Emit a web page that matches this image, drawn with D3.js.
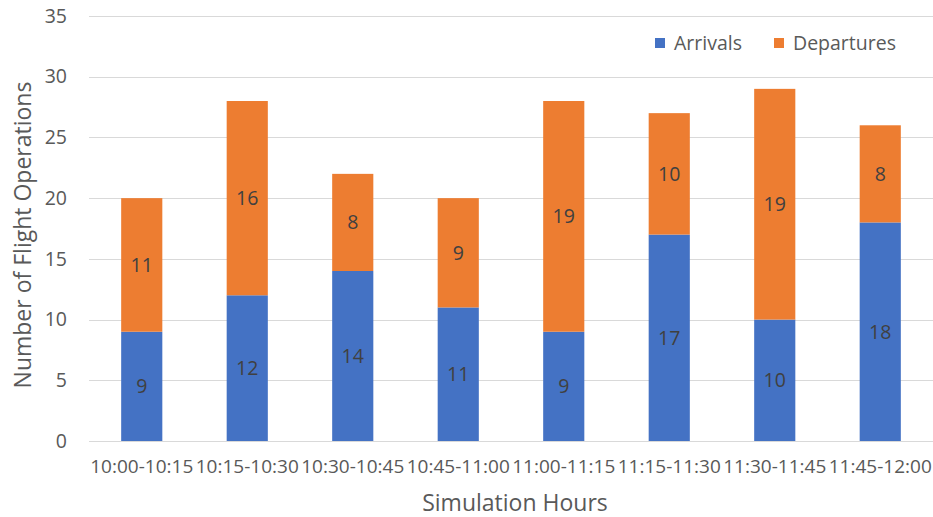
<!DOCTYPE html>
<html>
<head>
<meta charset="utf-8">
<script src="https://cdn.jsdelivr.net/npm/d3@7"></script>
<style>
  html, body { margin: 0; padding: 0; background: #fff; }
  svg { display: block; font-family: "Open Sans", sans-serif; }
</style>
</head>
<body>
<svg id="chart" width="933" height="517"></svg>
<script>
// Flight operations per 15-minute simulation slot
const categories = ["10:00-10:15", "10:15-10:30", "10:30-10:45", "10:45-11:00",
                    "11:00-11:15", "11:15-11:30", "11:30-11:45", "11:45-12:00"];
const arrivals   = [9, 12, 14, 11, 9, 17, 10, 18];
const departures = [11, 16, 8, 9, 19, 10, 19, 8];
const seriesNames = ["Arrivals", "Departures"];
const yTicks = [0, 5, 10, 15, 20, 25, 30, 35];

const colors = { Arrivals: "#4472C4", Departures: "#ED7D31" };
const textColor = "#595959";
const labelColor = "#404040";

const svg = d3.select("#chart");
const margin = { left: 89, right: 0, top: 16, bottom: 76 };
const width = 933, height = 517;

const x = d3.scaleBand()
  .domain(categories)
  .range([margin.left, width - margin.right])
  .paddingInner(0.61)
  .paddingOuter(0.305);

const y = d3.scaleLinear()
  .domain([0, 35])
  .range([height - margin.bottom, margin.top]);

// Horizontal gridlines
svg.append("g")
  .selectAll("line")
  .data(yTicks)
  .join("line")
  .attr("x1", margin.left)
  .attr("x2", width - margin.right)
  .attr("y1", d => Math.round(y(d)) + 0.5)
  .attr("y2", d => Math.round(y(d)) + 0.5)
  .attr("stroke", "#d9d9d9")
  .attr("stroke-width", 1);

// Y axis labels
const yAxis = svg.append("g")
  .attr("transform", `translate(${margin.left - 22},0)`)
  .call(d3.axisLeft(y).tickValues(yTicks).tickSize(0).tickPadding(0));
yAxis.select(".domain").remove();
yAxis.selectAll("text")
  .attr("fill", textColor)
  .style("font-size", "19.5px")
  .style("font-family", "'Open Sans', sans-serif");

// X axis labels
const xAxis = svg.append("g")
  .attr("transform", `translate(0,${height - margin.bottom})`)
  .call(d3.axisBottom(x).tickSize(0).tickPadding(19));
xAxis.select(".domain").remove();
xAxis.selectAll("text")
  .attr("fill", textColor)
  .style("font-size", "19px")
  .style("font-family", "'Open Sans', sans-serif");

// Stacked bars
const rows = categories.map((c, i) => ({ cat: c, Arrivals: arrivals[i], Departures: departures[i] }));
const stacked = d3.stack().keys(seriesNames)(rows);

const layers = svg.append("g")
  .selectAll("g")
  .data(stacked)
  .join("g")
  .attr("fill", d => colors[d.key]);

layers.selectAll("rect")
  .data(d => d)
  .join("rect")
  .attr("x", d => x(d.data.cat))
  .attr("width", x.bandwidth())
  .attr("y", d => y(d[1]))
  .attr("height", d => y(d[0]) - y(d[1]));

// Value labels centred in each segment
layers.selectAll("text")
  .data(d => d.map(p => ({ p, key: d.key })))
  .join("text")
  .attr("x", d => x(d.p.data.cat) + x.bandwidth() / 2)
  .attr("y", d => y((d.p[0] + d.p[1]) / 2))
  .attr("dy", "0.35em")
  .attr("text-anchor", "middle")
  .attr("fill", labelColor)
  .style("font-size", "19.5px")
  .text(d => d.p.data[d.key]);

// Axis titles
svg.append("text")
  .attr("x", 515)
  .attr("y", 511)
  .attr("text-anchor", "middle")
  .attr("fill", textColor)
  .style("font-size", "23px")
  .text("Simulation Hours");

svg.append("text")
  .attr("transform", `translate(31,235) rotate(-90)`)
  .attr("text-anchor", "middle")
  .attr("fill", textColor)
  .style("font-size", "23px")
  .text("Number of Flight Operations");

// Legend
const legend = svg.append("g");
const legendItems = [
  { name: "Arrivals", x: 655 },
  { name: "Departures", x: 774 }
];
legendItems.forEach(item => {
  legend.append("rect")
    .attr("x", item.x)
    .attr("y", 38)
    .attr("width", 10)
    .attr("height", 10)
    .attr("fill", colors[item.name]);
  legend.append("text")
    .attr("x", item.x + 19)
    .attr("y", 43)
    .attr("dy", "0.35em")
    .attr("fill", textColor)
    .style("font-size", "19.5px")
    .text(item.name);
});
</script>
</body>
</html>
